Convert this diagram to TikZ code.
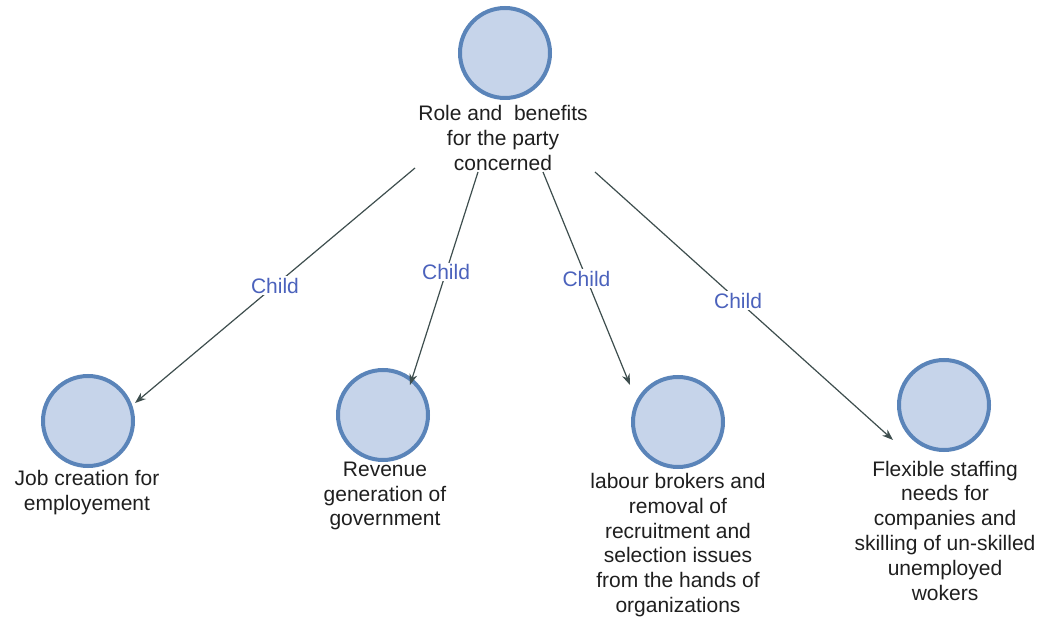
\documentclass[tikz,border=0pt]{standalone}
\usepackage{fontspec}
\setmainfont{Liberation Sans}
\usetikzlibrary{arrows.meta}
\definecolor{circfill}{HTML}{C6D4EA}
\definecolor{circline}{HTML}{5A84B9}
\definecolor{edgecol}{HTML}{3E4E4E}
\definecolor{labcol}{HTML}{4B62BC}
\tikzset{
  concept/.style={circle, draw=circline, fill=circfill, line width=4pt, minimum size=90pt, inner sep=0pt},
  caption/.style={align=center, inner sep=0pt, text=black!88, font=\fontsize{21}{24.8}\selectfont},
  link/.style={draw=edgecol, line width=1.2pt, -{Stealth[length=11pt,width=8pt]}},
  linklabel/.style={fill=white, inner sep=1.5pt, text=labcol, font=\fontsize{21}{24}\selectfont}
}
\begin{document}
\begin{tikzpicture}[x=1pt,y=-1pt]
\useasboundingbox[fill=white] (0,0) rectangle (1041,620);
% nodes
\node[concept] (root) at (505,53) {};
\node[caption] (roottxt) at (503,138) {Role and \ benefits\\for the party\\concerned};

\node[concept] (c1) at (88,421) {};
\node[caption] (t1) at (87,492.5) {Job creation for\\employement};

\node[concept] (c2) at (383,415) {};
\node[caption] (t2) at (385,496) {Revenue\\generation of\\government};

\node[concept] (c3) at (678,422) {};
\node[caption] (t3) at (678,545) {labour brokers and\\removal of\\recruitment and\\selection issues\\from the hands of\\organizations};

\node[concept] (c4) at (944,405) {};
\node[caption] (t4) at (945,530.5) {Flexible staffing\\needs for\\companies and\\skilling of un-skilled\\unemployed\\wokers};

% connector ends
\coordinate (s1) at (415,168); \coordinate (e1) at (135,403);
\coordinate (s2) at (478,172); \coordinate (e2) at (410,385);
\coordinate (s3) at (543,172); \coordinate (e3) at (630,385);
\coordinate (s4) at (595,172); \coordinate (e4) at (893,440);

\draw[link] (s1) -- node[linklabel] {Child} (e1);
\draw[link] (s2) -- node[linklabel, pos=0.47] {Child} (e2);
\draw[link] (s3) -- node[linklabel] {Child} (e3);
\draw[link] (s4) -- node[linklabel, pos=0.48] {Child} (e4);
\end{tikzpicture}
\end{document}
